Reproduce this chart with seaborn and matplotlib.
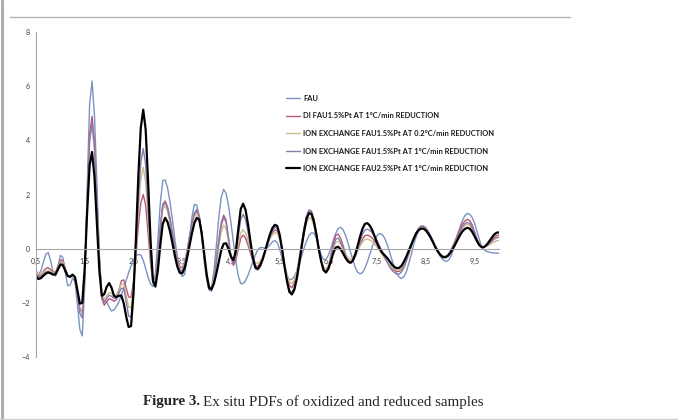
import numpy as np
import pandas as pd
import matplotlib
matplotlib.use("Agg")
import matplotlib.pyplot as plt
import seaborn as sns
from matplotlib.lines import Line2D

# r grid (x axis), values every 0.05
r = np.round(np.arange(0.5, 10.001, 0.05), 2)

fau = [
    -0.80, -0.95, -0.82, -0.51, -0.21, -0.14, -0.44, -0.88, -1.01, -0.66,
    -0.25, -0.32, -0.87, -1.37, -1.34, -1.09, -1.22, -2.06, -2.99, -3.22,
    -1.32, 2.24, 5.33, 6.19, 4.91, 2.40, -0.27, -1.84, -1.94, -1.95,
    -2.16, -2.30, -2.26, -2.14, -1.96, -1.71, -1.46, -1.17, -0.89, -0.64,
    -0.43, -0.28, -0.21, -0.23, -0.43, -0.73, -1.06, -1.30, -1.40, -0.92,
    0.32, 1.67, 2.51, 2.54, 2.24, 1.72, 1.06, 0.33, -0.29, -0.80,
    -1.03, -0.95, -0.39, 0.40, 1.17, 1.64, 1.61, 1.14, 0.40, -0.43,
    -1.13, -1.52, -1.45, -0.84, 0.10, 1.14, 1.89, 2.19, 2.04, 1.59,
    0.96, 0.23, -0.47, -1.00, -1.29, -1.29, -1.18, -0.98, -0.74, -0.47,
    -0.24, -0.04, 0.04, 0.04, 0.02, 0.04, 0.14, 0.25, 0.30, 0.22,
    -0.02, -0.36, -0.70, -0.99, -1.14, -1.13, -1.02, -0.83, -0.57, -0.28,
    0.02, 0.27, 0.48, 0.58, 0.58, 0.41, 0.09, -0.23, -0.40, -0.40,
    -0.24, 0.01, 0.31, 0.56, 0.74, 0.79, 0.70, 0.50, 0.22, -0.10,
    -0.41, -0.69, -0.87, -0.93, -0.88, -0.72, -0.48, -0.21, 0.07, 0.31,
    0.49, 0.56, 0.53, 0.40, 0.18, -0.09, -0.39, -0.67, -0.90, -1.05,
    -1.10, -1.03, -0.85, -0.54, -0.22, 0.15, 0.44, 0.69, 0.81, 0.81,
    0.74, 0.61, 0.45, 0.25, 0.06, -0.13, -0.30, -0.41, -0.47, -0.45,
    -0.33, -0.12, 0.17, 0.47, 0.79, 1.04, 1.22, 1.30, 1.27, 1.15,
    0.93, 0.63, 0.32, 0.06, -0.05, -0.10, -0.13, -0.15, -0.16, -0.17,
    -0.16,
]

di_fau15_1c = [
    -0.85, -1.00, -0.95, -0.84, -0.73, -0.70, -0.77, -0.86, -0.86, -0.63,
    -0.41, -0.44, -0.72, -1.00, -1.05, -0.98, -1.08, -1.62, -2.21, -2.36,
    -0.89, 1.83, 4.22, 4.89, 3.90, 1.90, -0.35, -1.83, -2.09, -1.96,
    -1.85, -1.88, -1.94, -1.88, -1.54, -1.19, -1.15, -1.45, -1.78, -1.80,
    -1.23, -0.27, 0.85, 1.68, 2.00, 1.60, 0.58, -0.54, -1.23, -1.15,
    -0.31, 0.79, 1.63, 1.76, 1.54, 1.13, 0.58, 0.03, -0.40, -0.67,
    -0.70, -0.49, -0.06, 0.45, 0.93, 1.27, 1.40, 1.18, 0.59, -0.22,
    -0.95, -1.41, -1.47, -1.10, -0.43, 0.33, 0.95, 1.24, 1.06, 0.39,
    -0.32, -0.62, -0.44, -0.02, 0.38, 0.50, 0.39, 0.13, -0.17, -0.44,
    -0.62, -0.64, -0.55, -0.35, -0.11, 0.16, 0.40, 0.59, 0.69, 0.66,
    0.39, -0.06, -0.59, -1.04, -1.36, -1.44, -1.28, -0.90, -0.37, 0.21,
    0.76, 1.19, 1.40, 1.37, 1.09, 0.61, 0.06, -0.42, -0.76, -0.84,
    -0.65, -0.25, 0.20, 0.49, 0.54, 0.38, 0.12, -0.19, -0.41, -0.50,
    -0.45, -0.29, -0.07, 0.16, 0.36, 0.48, 0.50, 0.46, 0.39, 0.28,
    0.15, 0.00, -0.16, -0.32, -0.47, -0.61, -0.72, -0.80, -0.84, -0.84,
    -0.77, -0.62, -0.40, -0.16, 0.11, 0.35, 0.57, 0.72, 0.79, 0.79,
    0.72, 0.60, 0.44, 0.25, 0.06, -0.09, -0.22, -0.29, -0.29, -0.23,
    -0.10, 0.09, 0.29, 0.53, 0.74, 0.91, 1.02, 1.08, 1.04, 0.87,
    0.62, 0.36, 0.15, 0.05, 0.07, 0.12, 0.21, 0.32, 0.41, 0.48,
    0.50,
]

ie_fau15_02c = [
    -0.80, -0.95, -0.93, -0.87, -0.82, -0.80, -0.84, -0.89, -0.88, -0.68,
    -0.47, -0.50, -0.75, -1.00, -1.04, -0.98, -1.08, -1.64, -2.26, -2.41,
    -1.00, 1.63, 3.93, 4.57, 3.65, 1.80, -0.28, -1.65, -1.88, -1.74,
    -1.62, -1.66, -1.74, -1.71, -1.51, -1.31, -1.31, -1.71, -2.16, -2.18,
    -1.41, -0.10, 1.43, 2.56, 3.00, 2.48, 1.15, -0.31, -1.21, -1.16,
    -0.37, 0.67, 1.46, 1.58, 1.37, 0.98, 0.46, -0.07, -0.47, -0.73,
    -0.76, -0.55, -0.13, 0.36, 0.84, 1.18, 1.30, 1.09, 0.53, -0.24,
    -0.93, -1.37, -1.42, -1.11, -0.54, 0.10, 0.62, 0.87, 0.74, 0.25,
    -0.28, -0.50, -0.31, 0.15, 0.57, 0.70, 0.58, 0.30, -0.03, -0.33,
    -0.52, -0.54, -0.46, -0.30, -0.09, 0.14, 0.35, 0.51, 0.59, 0.56,
    0.32, -0.07, -0.54, -0.94, -1.22, -1.30, -1.15, -0.83, -0.38, 0.12,
    0.59, 0.95, 1.13, 1.11, 0.87, 0.48, 0.01, -0.39, -0.67, -0.75,
    -0.60, -0.31, 0.02, 0.24, 0.27, 0.17, 0.00, -0.20, -0.34, -0.40,
    -0.36, -0.24, -0.08, 0.10, 0.25, 0.34, 0.35, 0.32, 0.26, 0.17,
    0.05, -0.08, -0.21, -0.35, -0.48, -0.59, -0.69, -0.75, -0.79, -0.79,
    -0.72, -0.58, -0.37, -0.14, 0.12, 0.35, 0.56, 0.70, 0.77, 0.77,
    0.70, 0.58, 0.42, 0.24, 0.06, -0.09, -0.22, -0.29, -0.30, -0.24,
    -0.12, 0.04, 0.22, 0.42, 0.60, 0.76, 0.85, 0.90, 0.86, 0.72,
    0.52, 0.30, 0.13, 0.05, 0.06, 0.09, 0.14, 0.20, 0.25, 0.29,
    0.30,
]

ie_fau15_1c = [
    -0.95, -1.05, -1.02, -0.94, -0.87, -0.85, -0.88, -0.91, -0.90, -0.71,
    -0.52, -0.55, -0.78, -1.00, -1.04, -0.96, -1.07, -1.70, -2.39, -2.56,
    -1.09, 1.63, 4.02, 4.69, 3.74, 1.83, -0.32, -1.74, -1.98, -1.84,
    -1.72, -1.76, -1.84, -1.81, -1.64, -1.46, -1.47, -1.95, -2.49, -2.52,
    -1.59, 0.00, 1.81, 3.18, 3.70, 3.09, 1.53, -0.19, -1.25, -1.20,
    -0.37, 0.74, 1.57, 1.70, 1.48, 1.05, 0.49, -0.08, -0.52, -0.80,
    -0.83, -0.60, -0.14, 0.42, 0.94, 1.31, 1.45, 1.22, 0.60, -0.26,
    -1.02, -1.51, -1.57, -1.20, -0.53, 0.23, 0.85, 1.14, 0.98, 0.37,
    -0.28, -0.55, -0.26, 0.44, 1.08, 1.27, 1.07, 0.61, 0.07, -0.43,
    -0.75, -0.79, -0.68, -0.45, -0.16, 0.16, 0.45, 0.67, 0.79, 0.75,
    0.45, -0.06, -0.65, -1.16, -1.52, -1.61, -1.44, -1.04, -0.47, 0.16,
    0.74, 1.20, 1.43, 1.40, 1.11, 0.62, 0.04, -0.45, -0.81, -0.89,
    -0.71, -0.34, 0.08, 0.35, 0.39, 0.25, 0.01, -0.27, -0.47, -0.55,
    -0.48, -0.28, 0.00, 0.29, 0.54, 0.69, 0.72, 0.67, 0.59, 0.45,
    0.29, 0.10, -0.10, -0.30, -0.48, -0.65, -0.79, -0.88, -0.94, -0.94,
    -0.86, -0.70, -0.46, -0.19, 0.09, 0.36, 0.60, 0.76, 0.84, 0.84,
    0.77, 0.64, 0.47, 0.28, 0.08, -0.08, -0.22, -0.29, -0.29, -0.24,
    -0.11, 0.06, 0.25, 0.46, 0.65, 0.82, 0.92, 0.97, 0.93, 0.78,
    0.56, 0.33, 0.14, 0.05, 0.06, 0.11, 0.18, 0.27, 0.35, 0.40,
    0.42,
]

ie_fau25_1c = [
    -1.03, -1.12, -1.09, -1.00, -0.92, -0.88, -0.91, -0.96, -0.95, -0.77,
    -0.59, -0.61, -0.81, -1.01, -1.04, -0.96, -1.05, -1.54, -2.03, -2.00,
    -0.70, 1.37, 3.08, 3.57, 2.65, 0.92, -0.82, -1.74, -1.68, -1.41,
    -1.27, -1.44, -1.74, -1.79, -1.74, -1.73, -2.01, -2.50, -2.89, -2.86,
    -1.67, 0.35, 2.70, 4.46, 5.13, 4.40, 2.49, 0.32, -1.20, -1.40,
    -0.81, 0.13, 0.91, 1.14, 0.98, 0.64, 0.20, -0.27, -0.66, -0.89,
    -0.91, -0.72, -0.34, 0.12, 0.57, 0.95, 1.14, 1.07, 0.57, -0.18,
    -0.93, -1.44, -1.50, -1.29, -0.92, -0.48, -0.06, 0.18, 0.20, -0.01,
    -0.29, -0.42, -0.09, 0.71, 1.46, 1.66, 1.43, 0.90, 0.27, -0.32,
    -0.69, -0.74, -0.62, -0.39, -0.09, 0.23, 0.53, 0.76, 0.88, 0.84,
    0.51, -0.03, -0.66, -1.21, -1.60, -1.69, -1.52, -1.12, -0.56, 0.06,
    0.63, 1.09, 1.31, 1.29, 1.01, 0.55, 0.00, -0.46, -0.79, -0.88,
    -0.74, -0.47, -0.16, 0.04, 0.07, -0.02, -0.17, -0.34, -0.47, -0.52,
    -0.44, -0.21, 0.11, 0.45, 0.74, 0.92, 0.94, 0.85, 0.68, 0.45,
    0.20, 0.00, -0.14, -0.24, -0.33, -0.45, -0.58, -0.67, -0.72, -0.71,
    -0.63, -0.48, -0.29, -0.07, 0.15, 0.37, 0.56, 0.68, 0.74, 0.74,
    0.67, 0.55, 0.40, 0.22, 0.03, -0.12, -0.24, -0.31, -0.32, -0.27,
    -0.16, -0.01, 0.15, 0.33, 0.50, 0.64, 0.73, 0.77, 0.74, 0.62,
    0.45, 0.27, 0.12, 0.05, 0.07, 0.15, 0.27, 0.40, 0.52, 0.59,
    0.60,
]

labels = [
    "FAU",
    "DI FAU1.5%Pt AT 1°C/min REDUCTION",
    "ION EXCHANGE FAU1.5%Pt AT 0.2°C/min REDUCTION",
    "ION EXCHANGE FAU1.5%Pt AT 1°C/min REDUCTION",
    "ION EXCHANGE FAU2.5%Pt AT 1°C/min REDUCTION",
]
colors = ["#7a93c3", "#b65873", "#cbbd8c", "#8b79ad", "#000000"]
widths = [1.0, 1.0, 1.0, 1.0, 1.6]

df = pd.DataFrame({"r": r})
for lab, vals in zip(labels, [fau, di_fau15_1c, ie_fau15_02c, ie_fau15_1c, ie_fau25_1c]):
    df[lab] = vals
long = df.melt("r", var_name="sample", value_name="G")

sns.set_style("white")
plt.rcParams["font.family"] = ["Lato", "DejaVu Sans"]

W, H = 678, 420
fig = plt.figure(figsize=(W / 100, H / 100), dpi=100)
ax = fig.add_axes([36 / W, 1 - 357 / H, (499 - 36) / W, (357 - 32) / H])

for lab, col, lw in zip(labels, colors, widths):
    sns.lineplot(data=long[long["sample"] == lab], x="r", y="G", color=col,
                 linewidth=lw, errorbar=None, ax=ax, legend=False)

ax.set_xlim(0.5, 10.0)
ax.set_ylim(-4, 8)
ax.set_xlabel("")
ax.set_ylabel("")

xt = np.arange(0.5, 10, 1.0)
ax.set_xticks(xt)
ax.set_xticklabels([f"{v:.1f}".replace(".", ",") for v in xt])
ax.set_yticks(range(-4, 9, 2))

for s in ["top", "right"]:
    ax.spines[s].set_visible(False)
ax.spines["bottom"].set_position(("data", 0))
for s in ["left", "bottom"]:
    ax.spines[s].set_color("#a6a6a6")
    ax.spines[s].set_linewidth(0.8)

ax.tick_params(axis="both", labelsize=5.2, colors="#a6a6a6", labelcolor="#404040",
               length=2, width=0.6, direction="out")
ax.tick_params(axis="x", pad=5)
ax.tick_params(axis="y", pad=2.5)

handles = [Line2D([], [], color=c, lw=w) for c, w in zip(colors, widths)]
leg = ax.legend(handles, labels, loc="upper left",
                bbox_to_anchor=(286 / W, 1 - 95 / H), bbox_transform=fig.transFigure,
                frameon=False, prop=dict(family="Lato", weight="bold", size=5.4),
                handlelength=1.9, handletextpad=0.35, labelspacing=1.4,
                borderaxespad=0, borderpad=0)
for t in leg.get_texts():
    t.set_color("#1a1a1a")

# page decorations: rule above the chart and page border
fig.add_artist(Line2D([10 / W, 570 / W], [1 - 17 / H, 1 - 17 / H], color="#b3b3b3", lw=1.0))
fig.add_artist(Line2D([2 / W, 2 / W], [0, 1], color="#a9a9a2", lw=2.0))
fig.add_artist(Line2D([0, 1], [1 / H, 1 / H], color="#d0d0d0", lw=1.0))

# caption
cy = 1 - 402 / H
t1 = fig.text(143 / W, cy, "Figure 3.", fontsize=10.8, fontweight="bold",
              family="Liberation Serif", va="center", ha="left")
fig.canvas.draw()
bb = t1.get_window_extent()
fig.text((bb.x1 + 3) / W, cy, "Ex situ PDFs of oxidized and reduced samples",
         fontsize=10.8, family="Liberation Serif", va="center", ha="left")

fig.savefig("out.png", dpi=100)
